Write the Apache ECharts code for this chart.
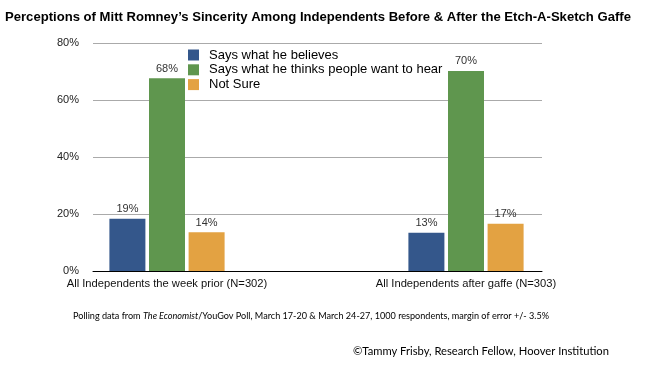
<!DOCTYPE html>
<html>
<head>
<meta charset="utf-8">
<script src="https://cdn.jsdelivr.net/npm/echarts@6/dist/echarts.min.js"></script>
<style>
html,body{margin:0;padding:0;background:#fff;}
#c{width:648px;height:367px;}
</style>
</head>
<body>
<div id="c"></div>
<script>
var categories = ['All Independents the week prior (N=302)', 'All Independents after gaffe (N=303)'];
var seriesNames = ['Says what he believes', 'Says what he thinks people want to hear', 'Not Sure'];
var believes = [18.3, 13.4];
var wantToHear = [67.6, 70.2];
var notSure = [13.6, 16.6];
var believesLabels = ['19%', '13%'];
var wantToHearLabels = ['68%', '70%'];
var notSureLabels = ['14%', '17%'];
var yTicks = [0, 20, 40, 60, 80];

var colors = ['#34578b', '#5f964e', '#e3a242'];
var FONT = '"Liberation Sans", Arial, Helvetica, sans-serif';
var HFONT = 'Lato, "Open Sans", sans-serif';

function mkSeries(name, vals, labels, color) {
  return {
    name: name,
    type: 'bar',
    barWidth: 36,
    barGap: '10%',
    itemStyle: { color: color },
    data: vals.map(function (v, i) { return [i, v]; }),
    label: {
      show: true, position: 'top', distance: 4,
      fontFamily: FONT, fontSize: 11, color: '#333',
      formatter: function (p) { return labels[p.dataIndex]; }
    }
  };
}

var chart = echarts.init(document.getElementById('c'));
chart.setOption({
  animation: false,
  textStyle: { fontFamily: FONT },
  title: [{
    text: 'Perceptions of Mitt Romney\u2019s Sincerity Among Independents Before & After the Etch-A-Sketch Gaffe',
    left: 5, top: 11, padding: 0,
    textStyle: { fontFamily: FONT, fontWeight: 'bold', fontSize: 13.1, color: '#000' }
  }, {
    text: '{n|Polling data from }{i|The Economist}{n|/YouGov Poll, March 17-20 & March 24-27, 1000 respondents, margin of error +/- 3.5%}',
    left: 73, top: 312, padding: 0,
    textStyle: {
      fontWeight: 'normal',
      rich: {
        n: { fontFamily: HFONT, fontSize: 9.1, fontWeight: 'normal', color: '#000' },
        i: { fontFamily: HFONT, fontSize: 9.1, fontWeight: 'normal', fontStyle: 'italic', color: '#000' }
      }
    }
  }, {
    text: '\u00A9Tammy Frisby, Research Fellow, Hoover Institution',
    left: 353, top: 346, padding: 0,
    textStyle: { fontFamily: HFONT, fontWeight: 'normal', fontSize: 11.2, color: '#000' }
  }],
  legend: {
    orient: 'vertical',
    left: 188, top: 48, padding: 0,
    itemWidth: 11, itemHeight: 11, itemGap: 0.8,
    icon: 'rect',
    data: seriesNames,
    textStyle: { fontFamily: FONT, fontSize: 13, color: '#000', lineHeight: 14, padding: [0, 0, 0, 5] },
    selectedMode: false
  },
  grid: { left: 93, right: 106, top: 43, bottom: 96, containLabel: false },
  xAxis: {
    type: 'value',
    min: -74 / 299,
    max: 1 + 76 / 299,
    axisLine: { show: true, lineStyle: { color: '#000', width: 1 } },
    axisTick: { show: false },
    splitLine: { show: false },
    axisLabel: {
      customValues: [0, 1],
      margin: 7,
      fontFamily: FONT, fontSize: 11.2, color: '#111',
      formatter: function (v) { return categories[Math.round(v)]; }
    }
  },
  yAxis: {
    type: 'value',
    min: yTicks[0], max: yTicks[yTicks.length - 1], interval: 20,
    axisLine: { show: false },
    axisTick: { show: false },
    splitLine: { lineStyle: { color: '#aaaaaa', width: 1 } },
    axisLabel: {
      margin: 14, fontFamily: FONT, fontSize: 11, color: '#222',
      formatter: '{value}%'
    }
  },
  series: [
    mkSeries(seriesNames[0], believes, believesLabels, colors[0]),
    mkSeries(seriesNames[1], wantToHear, wantToHearLabels, colors[1]),
    mkSeries(seriesNames[2], notSure, notSureLabels, colors[2])
  ]
});
</script>
</body>
</html>
